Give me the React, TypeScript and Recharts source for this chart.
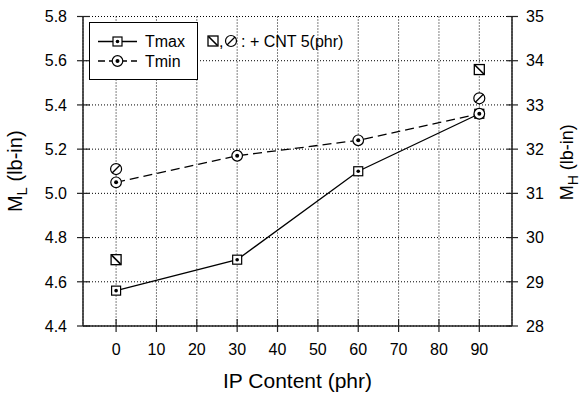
import { ComposedChart, Line, XAxis, YAxis, CartesianGrid, Legend } from "recharts";

// IP content (phr) and torque readings
const ipContent = [0, 30, 60, 90];
const tmaxMH = [28.8, 29.5, 31.5, 32.8];
const tminML = [5.05, 5.17, 5.24, 5.36];

// + CNT 5 phr
const cntIp = [0, 90];
const cntTmaxMH = [29.5, 33.8];
const cntTminML = [5.11, 5.43];

const xTicks = [0, 10, 20, 30, 40, 50, 60, 70, 80, 90];
const mlTicks = [4.4, 4.6, 4.8, 5.0, 5.2, 5.4, 5.6, 5.8];
const mhTicks = [28, 29, 30, 31, 32, 33, 34, 35];

const FONT = '"Liberation Sans", Arial, Helvetica, sans-serif';
const AXIS = "#222";

const tmaxRows = ipContent.map((ip, i) => ({ ip, v: tmaxMH[i] }));
const tminRows = ipContent.map((ip, i) => ({ ip, v: tminML[i] }));
const cntTmaxRows = cntIp.map((ip, i) => ({ ip, v: cntTmaxMH[i] }));
const cntTminRows = cntIp.map((ip, i) => ({ ip, v: cntTminML[i] }));

function SquareDot({ cx, cy }: any) {
  return (
    <g>
      <rect x={cx - 4.5} y={cy - 4.5} width={9} height={9} fill="#fff" stroke="#000" strokeWidth={1.2} />
      <circle cx={cx} cy={cy} r={1.8} fill="#000" />
    </g>
  );
}

function CircleDot({ cx, cy }: any) {
  return (
    <g>
      <circle cx={cx} cy={cy} r={5.3} fill="#fff" stroke="#000" strokeWidth={1.2} />
      <circle cx={cx} cy={cy} r={2} fill="#000" />
    </g>
  );
}

function HatchSquare({ cx, cy }: any) {
  return (
    <g>
      <rect x={cx - 5} y={cy - 5} width={10} height={10} fill="#fff" stroke="#000" strokeWidth={1.3} />
      <line x1={cx - 4.5} y1={cy - 4.5} x2={cx + 4.5} y2={cy + 4.5} stroke="#000" strokeWidth={1.6} />
    </g>
  );
}

function SlashCircle({ cx, cy }: any) {
  return (
    <g>
      <circle cx={cx} cy={cy} r={5.5} fill="#fff" stroke="#000" strokeWidth={1.2} />
      <line x1={cx - 4} y1={cy + 4} x2={cx + 4} y2={cy - 4} stroke="#000" strokeWidth={1.3} />
    </g>
  );
}

function LeftTick({ x, y, payload }: any) {
  return (
    <g>
      <line x1={x - 6} x2={x + 7} y1={y} y2={y} stroke={AXIS} strokeWidth={1.2} />
      <text x={x - 16} y={y} dy="0.36em" textAnchor="end" fontSize={16} fontFamily={FONT} fill="#000">
        {Number(payload.value).toFixed(1)}
      </text>
    </g>
  );
}

function RightTick({ x, y, payload }: any) {
  return (
    <g>
      <line x1={x - 5} x2={x + 6} y1={y} y2={y} stroke={AXIS} strokeWidth={1.2} />
      <text x={x + 14} y={y} dy="0.36em" textAnchor="start" fontSize={16} fontFamily={FONT} fill="#000">
        {payload.value}
      </text>
    </g>
  );
}

function BottomTick({ x, y, payload }: any) {
  return (
    <g>
      <line x1={x} x2={x} y1={y - 7} y2={y + 6} stroke={AXIS} strokeWidth={1.2} />
      <text x={x} y={y + 29} textAnchor="middle" fontSize={16} fontFamily={FONT} fill="#000">
        {payload.value}
      </text>
    </g>
  );
}

function LegendBox() {
  return (
    <svg width={300} height={60} style={{ display: "block", overflow: "visible" }}>
      <rect x={0.5} y={0.5} width={108} height={57} fill="#fff" stroke="#000" strokeWidth={1} />
      <line x1={9} x2={48} y1={19.5} y2={19.5} stroke="#000" strokeWidth={1.3} />
      <SquareDot cx={28.5} cy={19.5} />
      <text x={56} y={25} fontSize={16} fontFamily={FONT}>Tmax</text>
      <line x1={9} x2={48} y1={39} y2={39} stroke="#000" strokeWidth={1.3} strokeDasharray="7 4" />
      <CircleDot cx={28.5} cy={39} />
      <text x={56} y={44.5} fontSize={16} fontFamily={FONT}>Tmin</text>
      <HatchSquare cx={124} cy={19} />
      <text x={130} y={25} fontSize={16} fontFamily={FONT}>,</text>
      <SlashCircle cx={142} cy={19} />
      <text x={152} y={25} fontSize={16} fontFamily={FONT}> : + CNT 5(phr)</text>
    </svg>
  );
}

function SideLabel({ viewBox, sub, offX, offY = 0, fs = 20 }: any) {
  const cx = viewBox.x + offX;
  const cy = viewBox.y + viewBox.height / 2 + offY;
  const subSize = Math.round(fs * 0.75);
  return (
    <text x={cx} y={cy} transform={`rotate(-90 ${cx} ${cy})`} textAnchor="middle" fontSize={fs} fontFamily={FONT} fill="#000">
      <tspan>M</tspan>
      <tspan fontSize={subSize} dy={fs / 4}>{sub}</tspan>
      <tspan dy={-fs / 4}> (lb-in)</tspan>
    </text>
  );
}

export default function App() {
  return (
    <div style={{ width: 579, height: 394, background: "#fff" }}>
      <style>{`body{margin:0}`}</style>
      <ComposedChart width={579} height={394} margin={{ top: 16.5, right: 0, bottom: 0, left: 0 }}>
        <CartesianGrid stroke="#000" strokeDasharray="1 2" strokeWidth={1} yAxisId="left" />
        <XAxis
          dataKey="ip"
          type="number"
          domain={[-8.2, 98.1]}
          ticks={xTicks}
          allowDataOverflow
          height={68}
          tickSize={0}
          tickMargin={0}
          tickLine={false}
          axisLine={{ stroke: AXIS, strokeWidth: 1.5 }}
          tick={<BottomTick />}
          interval={0}
          label={{
            value: "IP Content (phr)",
            position: "insideBottom",
            offset: 6,
            style: { fontSize: 21, fontFamily: FONT, fill: "#000" },
          }}
        />
        <YAxis
          yAxisId="left"
          type="number"
          domain={[4.4, 5.8]}
          ticks={mlTicks}
          width={83}
          tickSize={0}
          tickMargin={0}
          tickLine={false}
          axisLine={{ stroke: AXIS, strokeWidth: 1.5 }}
          tick={<LeftTick />}
          interval={0}
          label={<SideLabel sub="L" offX={22} />}
        />
        <YAxis
          yAxisId="right"
          orientation="right"
          type="number"
          domain={[28, 35]}
          ticks={mhTicks}
          width={67}
          tickSize={0}
          tickMargin={0}
          tickLine={false}
          axisLine={{ stroke: AXIS, strokeWidth: 1.5 }}
          tick={<RightTick />}
          interval={0}
          label={<SideLabel sub="H" offX={61} offY={-9} fs={18} />}
        />
        <Legend
          layout="vertical"
          align="center"
          verticalAlign="middle"
          wrapperStyle={{ left: 89, top: 22, width: 300, height: 60 }}
          content={() => <LegendBox />}
        />
        <Line
          yAxisId="right"
          data={tmaxRows}
          dataKey="v"
          name="Tmax"
          stroke="#000"
          strokeWidth={1.3}
          dot={(p: any) => <SquareDot key={`tmax-${p.index}`} {...p} />}
          isAnimationActive={false}
        />
        <Line
          yAxisId="left"
          data={tminRows}
          dataKey="v"
          name="Tmin"
          stroke="#000"
          strokeWidth={1.3}
          strokeDasharray="9 5"
          dot={(p: any) => <CircleDot key={`tmin-${p.index}`} {...p} />}
          isAnimationActive={false}
        />
        <Line
          yAxisId="right"
          data={cntTmaxRows}
          dataKey="v"
          name="CNT Tmax"
          stroke="none"
          legendType="none"
          dot={(p: any) => <HatchSquare key={`ctmax-${p.index}`} {...p} />}
          isAnimationActive={false}
        />
        <Line
          yAxisId="left"
          data={cntTminRows}
          dataKey="v"
          name="CNT Tmin"
          stroke="none"
          legendType="none"
          dot={(p: any) => <SlashCircle key={`ctmin-${p.index}`} {...p} />}
          isAnimationActive={false}
        />
      </ComposedChart>
    </div>
  );
}
